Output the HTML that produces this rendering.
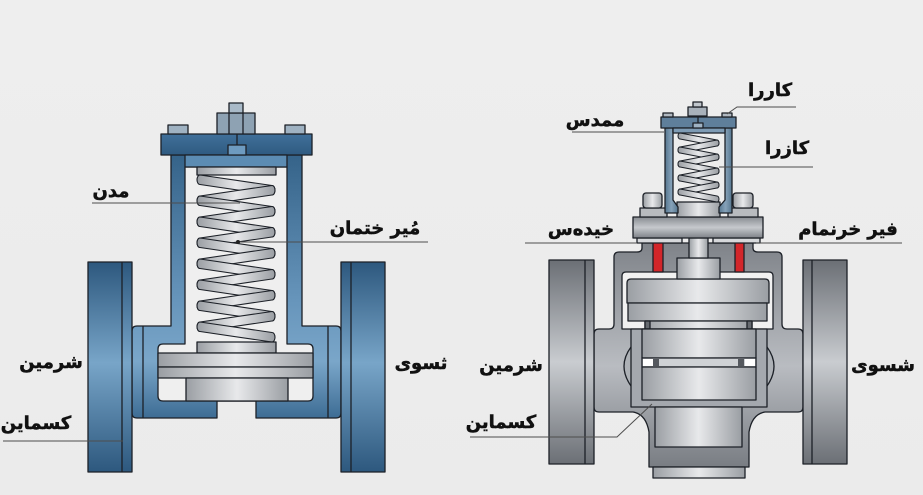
<!DOCTYPE html>
<html><head><meta charset="utf-8"><style>
html,body{margin:0;padding:0;background:#ededed;}
svg{display:block;}
text{font-family:"DejaVu Sans","Liberation Sans",sans-serif;font-weight:bold;font-size:18px;fill:#111;stroke:#111;stroke-width:0.5;text-anchor:middle;}
</style></head><body>
<svg width="923" height="495" viewBox="0 0 923 495" xmlns="http://www.w3.org/2000/svg">
<defs>
<linearGradient id="bg" x1="0" y1="0" x2="0" y2="1"><stop offset="0" stop-color="#eeeeee"/><stop offset="1" stop-color="#ebebeb"/></linearGradient>
<linearGradient id="gBlueBody" gradientUnits="userSpaceOnUse" x1="0" y1="155" x2="0" y2="420"><stop offset="0" stop-color="#356389"/><stop offset="0.55" stop-color="#6795bb"/><stop offset="0.78" stop-color="#7aa6c9"/><stop offset="1" stop-color="#3b6a92"/></linearGradient>
<linearGradient id="gBlueFl" gradientUnits="userSpaceOnUse" x1="0" y1="262" x2="0" y2="472"><stop offset="0" stop-color="#2d587e"/><stop offset="0.48" stop-color="#78a5c8"/><stop offset="1" stop-color="#2d587e"/></linearGradient>
<linearGradient id="gCap" x1="0" y1="0" x2="0" y2="1"><stop offset="0" stop-color="#40709a"/><stop offset="1" stop-color="#2f5a80"/></linearGradient>
<linearGradient id="gSteel" x1="0" y1="0" x2="1" y2="0"><stop offset="0" stop-color="#9a9ea3"/><stop offset="0.5" stop-color="#e8e9eb"/><stop offset="1" stop-color="#9a9ea3"/></linearGradient>
<linearGradient id="gGreyBody" gradientUnits="userSpaceOnUse" x1="0" y1="243" x2="0" y2="467"><stop offset="0" stop-color="#7f8389"/><stop offset="0.55" stop-color="#b9bcc1"/><stop offset="1" stop-color="#797d83"/></linearGradient>
<linearGradient id="gGreyFl" gradientUnits="userSpaceOnUse" x1="0" y1="260" x2="0" y2="464"><stop offset="0" stop-color="#6b6f75"/><stop offset="0.5" stop-color="#c9ccd0"/><stop offset="1" stop-color="#6b6f75"/></linearGradient>
<linearGradient id="gBonFl" x1="0" y1="0" x2="0" y2="1"><stop offset="0" stop-color="#878b91"/><stop offset="0.5" stop-color="#c6c9cd"/><stop offset="1" stop-color="#7d8187"/></linearGradient>
<linearGradient id="gPost" x1="0" y1="0" x2="1" y2="0"><stop offset="0" stop-color="#56768f"/><stop offset="0.5" stop-color="#86a2b9"/><stop offset="1" stop-color="#56768f"/></linearGradient>
</defs>
<rect x="0" y="0" width="923" height="495" fill="url(#bg)"/>

<g stroke="#1c2027" stroke-width="1.3" stroke-linejoin="round">
<!-- ============ LEFT VALVE (blue) ============ -->
<path d="M171,155 V326 H137 Q132,326 132,331 V413 Q132,418 137,418 H217 V401 H256 V418 H336 Q341,418 341,413 V331 Q341,326 336,326 H302 V155 Z" fill="url(#gBlueBody)"/>
<path d="M185,167 V344 H163 Q158,344 158,349 V396 Q158,401 163,401 H308 Q313,401 313,396 V349 Q313,344 308,344 H287 V167 Z" fill="#efefef"/>
<line x1="143" y1="326" x2="143" y2="418"/>
<line x1="328" y1="326" x2="328" y2="418"/>
<rect x="88" y="262" width="44" height="210" fill="url(#gBlueFl)"/>
<line x1="122" y1="262" x2="122" y2="472"/>
<rect x="341" y="262" width="44" height="210" fill="url(#gBlueFl)"/>
<line x1="351" y1="262" x2="351" y2="472"/>

<rect x="161" y="134" width="151" height="21" fill="url(#gCap)"/>
<rect x="185" y="155" width="102" height="12" fill="#5c8cb3"/>
<rect x="228" y="145" width="18" height="10" fill="#6e9bc0"/>
<line x1="237" y1="134" x2="237" y2="145"/>
<rect x="168" y="125" width="20" height="9" fill="#9fb2c2"/>
<rect x="285" y="125" width="20" height="9" fill="#9fb2c2"/>
<rect x="217" y="113" width="38" height="21" fill="#8ea2b3"/>
<line x1="229" y1="113" x2="229" y2="134"/>
<line x1="243" y1="113" x2="243" y2="134"/>
<rect x="229" y="103" width="14" height="10" fill="#a9bac8"/>

<rect x="197" y="167" width="79" height="8" fill="url(#gSteel)"/>
<g fill="url(#gSteel)" stroke-width="1.1">
<path d="M200,175 L272,185.5 A3,4.75 0 0 1 272,195 L200,184.5 A3,4.75 0 0 1 200,175Z"/>
<path d="M272,185.5 L200,196 A3,4.75 0 0 0 200,205.5 L272,195 A3,4.75 0 0 0 272,185.5Z"/>
<path d="M200,196 L272,206.5 A3,4.75 0 0 1 272,216 L200,205.5 A3,4.75 0 0 1 200,196Z"/>
<path d="M272,206.5 L200,217 A3,4.75 0 0 0 200,226.5 L272,216 A3,4.75 0 0 0 272,206.5Z"/>
<path d="M200,217 L272,227.5 A3,4.75 0 0 1 272,237 L200,226.5 A3,4.75 0 0 1 200,217Z"/>
<path d="M272,227.5 L200,238 A3,4.75 0 0 0 200,247.5 L272,237 A3,4.75 0 0 0 272,227.5Z"/>
<path d="M200,238 L272,248.5 A3,4.75 0 0 1 272,258 L200,247.5 A3,4.75 0 0 1 200,238Z"/>
<path d="M272,248.5 L200,259 A3,4.75 0 0 0 200,268.5 L272,258 A3,4.75 0 0 0 272,248.5Z"/>
<path d="M200,259 L272,269.5 A3,4.75 0 0 1 272,279 L200,268.5 A3,4.75 0 0 1 200,259Z"/>
<path d="M272,269.5 L200,280 A3,4.75 0 0 0 200,289.5 L272,279 A3,4.75 0 0 0 272,269.5Z"/>
<path d="M200,280 L272,290.5 A3,4.75 0 0 1 272,300 L200,289.5 A3,4.75 0 0 1 200,280Z"/>
<path d="M272,290.5 L200,301 A3,4.75 0 0 0 200,310.5 L272,300 A3,4.75 0 0 0 272,290.5Z"/>
<path d="M200,301 L272,311.5 A3,4.75 0 0 1 272,321 L200,310.5 A3,4.75 0 0 1 200,301Z"/>
<path d="M272,311.5 L200,322 A3,4.75 0 0 0 200,331.5 L272,321 A3,4.75 0 0 0 272,311.5Z"/>
<path d="M200,322 L272,332.5 A3,4.75 0 0 1 272,342 L200,331.5 A3,4.75 0 0 1 200,322Z"/>
</g>
<rect x="197" y="342" width="79" height="11" fill="url(#gSteel)"/>
<rect x="158" y="353" width="155" height="14" fill="url(#gSteel)"/>
<rect x="158" y="367" width="155" height="11" fill="url(#gSteel)"/>
<rect x="186" y="378" width="102" height="23" fill="url(#gSteel)"/>

<!-- ============ RIGHT VALVE (grey) ============ -->
<path d="M642,243 V248 Q642,252 637,252 H619 Q614,252 614,257 V324 Q614,329 609,329 H599 Q594,329 594,334 V407 Q594,412 599,412 H633 Q646,414 649,432 V467 H749 V432 Q752,414 765,412 H798 Q803,412 803,407 V334 Q803,329 798,329 H787 Q782,329 782,324 V257 Q782,252 777,252 H758 Q753,252 753,248 V243 Z" fill="url(#gGreyBody)"/>
<rect x="549" y="260" width="45" height="204" fill="url(#gGreyFl)"/>
<line x1="585" y1="260" x2="585" y2="464"/>
<rect x="803" y="260" width="44" height="204" fill="url(#gGreyFl)"/>
<line x1="812" y1="260" x2="812" y2="464"/>

<path d="M622,329 V276 Q622,272 626,272 H769 Q773,272 773,276 V329 Z" fill="#f1f1f1"/>
<path d="M627,303 V283 Q627,279 631,279 H765 Q769,279 769,283 V303 Z" fill="url(#gSteel)"/>
<rect x="628" y="303" width="139" height="18" fill="url(#gSteel)"/>
<rect x="645" y="321" width="107" height="8" fill="url(#gSteel)"/>
<rect x="645" y="321" width="5" height="8" fill="#666a70"/>
<rect x="747" y="321" width="5" height="8" fill="#666a70"/>
<rect x="677" y="258" width="43" height="21" fill="url(#gSteel)"/>
<rect x="689" y="238" width="19" height="20" fill="url(#gSteel)"/>
<rect x="653" y="238" width="10" height="34" fill="#d3262a"/>
<rect x="735" y="238" width="9" height="34" fill="#d3262a"/>
<rect x="637" y="238" width="45" height="5" fill="#d6d8db"/>
<rect x="713" y="238" width="47" height="5" fill="#d6d8db"/>

<path d="M631,347 Q617,366 631,386" fill="#adb1b6"/>
<path d="M767,347 Q781,366 767,386" fill="#adb1b6"/>
<rect x="631" y="329" width="136" height="78" fill="#a4a8ae"/>
<rect x="642" y="329" width="114" height="29" fill="url(#gSteel)"/>
<rect x="642" y="358" width="114" height="9" fill="#cfd2d5"/>
<rect x="643" y="359" width="10" height="7" fill="#ffffff" stroke="none"/>
<rect x="653" y="359" width="6" height="7" fill="#55595f" stroke="none"/>
<rect x="738" y="359" width="6" height="7" fill="#55595f" stroke="none"/>
<rect x="745" y="359" width="10" height="7" fill="#ffffff" stroke="none"/>
<rect x="642" y="367" width="114" height="33" fill="url(#gSteel)"/>
<rect x="655" y="407" width="87" height="40" fill="url(#gSteel)"/>
<rect x="653" y="467" width="92" height="11" fill="url(#gSteel)"/>

<rect x="633" y="217" width="130" height="21" fill="url(#gBonFl)"/>
<rect x="640" y="208" width="27" height="9" fill="#b8bbbf"/>
<rect x="728" y="208" width="30" height="9" fill="#b8bbbf"/>
<rect x="643" y="193" width="19" height="15" rx="3" fill="url(#gSteel)"/>
<rect x="733" y="193" width="20" height="15" rx="3" fill="url(#gSteel)"/>
<rect x="677" y="202" width="43" height="15" fill="url(#gSteel)"/>
<path d="M665,128 H673 V200 L678,207 V213 H665 Z" fill="url(#gPost)"/>
<path d="M725,128 H732 V213 H719 V207 L725,200 Z" fill="url(#gPost)"/>
<rect x="661" y="117" width="75" height="11" fill="#5f7f9b"/>
<rect x="673" y="128" width="52" height="5" fill="#7e9bb4"/>
<rect x="663" y="113" width="10" height="4" fill="#b1b9c1"/>
<rect x="722" y="113" width="10" height="4" fill="#b1b9c1"/>
<rect x="688" y="107" width="19" height="9" fill="#a8b1ba"/>
<rect x="693" y="102" width="9" height="5" fill="#c0c6cc"/>
<rect x="693" y="123" width="10" height="5" fill="#9fb3c4"/>
<line x1="698" y1="116" x2="698" y2="123"/>
<g fill="url(#gSteel)" stroke-width="1">
<path d="M680,133 L717,140 A2,3 0 0 1 717,146 L680,139 A2,3 0 0 1 680,133Z"/>
<path d="M717,140 L680,147 A2,3 0 0 0 680,153 L717,146 A2,3 0 0 0 717,140Z"/>
<path d="M680,147 L717,154 A2,3 0 0 1 717,160 L680,153 A2,3 0 0 1 680,147Z"/>
<path d="M717,154 L680,161 A2,3 0 0 0 680,167 L717,160 A2,3 0 0 0 717,154Z"/>
<path d="M680,161 L717,168 A2,3 0 0 1 717,174 L680,167 A2,3 0 0 1 680,161Z"/>
<path d="M717,168 L680,175 A2,3 0 0 0 680,181 L717,174 A2,3 0 0 0 717,168Z"/>
<path d="M680,175 L717,182 A2,3 0 0 1 717,188 L680,181 A2,3 0 0 1 680,175Z"/>
<path d="M717,182 L680,189 A2,3 0 0 0 680,195 L717,188 A2,3 0 0 0 717,182Z"/>
<path d="M680,189 L717,196 A2,3 0 0 1 717,202 L680,195 A2,3 0 0 1 680,189Z"/>
</g>
</g>

<!-- leader lines -->
<g stroke="#4d4d4d" stroke-width="1" fill="none">
<path d="M92,203 H240"/>
<path d="M238,242 H428"/>
<path d="M3,441 H123"/>
<path d="M727,114 L737,107 H796"/>
<path d="M572,132 H664"/>
<path d="M719,167 H813"/>
<path d="M525,243 H637"/>
<path d="M756,243 H902"/>
<path d="M470,437 H617 L652,404"/>
</g>
<circle cx="238" cy="242" r="2" fill="#222"/>

<!-- labels -->
<text x="111" y="197">مدن</text>
<text x="375" y="234">مُیر ختمان</text>
<text x="51" y="368">شرمین</text>
<text x="36" y="429">کسماین</text>
<text x="421" y="369">ثسوی</text>
<text x="770" y="96">کاررا</text>
<text x="595" y="126">ممدس</text>
<text x="787" y="154">کازرا</text>
<text x="581" y="235">خیده‌س</text>
<text x="848" y="235">فیر خرنمام</text>
<text x="511" y="371">شرمین</text>
<text x="501" y="428">کسماین</text>
<text x="883" y="371">شسوی</text>
</svg>
</body></html>
